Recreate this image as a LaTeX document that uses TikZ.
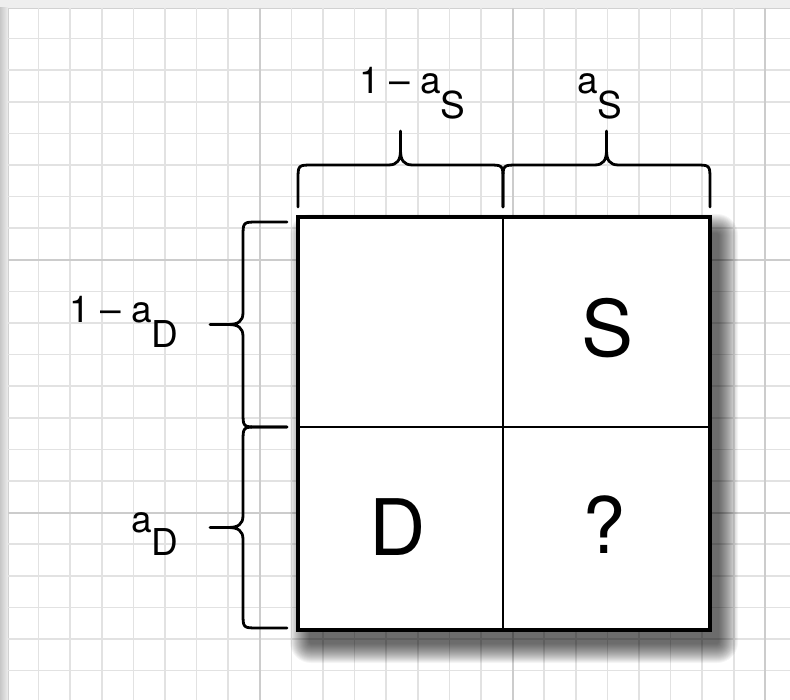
\documentclass[tikz,border=0pt]{standalone}
\usepackage{fontspec}
\setmainfont{TeX Gyre Heros}
\definecolor{minorc}{RGB}{226,226,226}
\definecolor{majorc}{RGB}{204,204,204}
\definecolor{edgec}{RGB}{238,238,238}
\begin{document}
\begin{tikzpicture}[x=1pt,y=-1pt,
  brace/.style={line width=2.8pt, line cap=round, line join=round},
  lab/.style={font=\fontsize{37}{42}\selectfont, inner sep=0pt, anchor=base},
  big/.style={font=\fontsize{78}{82}\selectfont, inner sep=0pt},
  minorline/.style={minorc, line width=1.5pt},
  majorline/.style={majorc, line width=2pt},
  cell/.style={draw, line width=3.2pt, fill=white, inner sep=0pt, minimum width=412pt, minimum height=413pt},
  shadowlayer/.style={fill=black, fill opacity=0.04},
  divider/.style={line width=2.4pt}]
\useasboundingbox (0,0) rectangle (790,700);
% paper
\fill[edgec] (0,0) rectangle (790,700);
\shade[left color=black!22, right color=edgec] (0,8) rectangle (8,700);
\fill[white] (8,8) rectangle (790,700);
\draw[black!18, line width=0.8pt] (8,700) -- (8,8) -- (790,8);
% grid
\foreach \i in {1,...,24} { \draw[minorline] ({7+31.6*\i},8) -- ({7+31.6*\i},700); }
\foreach \i in {1,...,21} { \draw[minorline] (8,{7+31.6*\i}) -- (790,{7+31.6*\i}); }
\foreach \i in {8,16,24} { \draw[majorline] ({7+31.6*\i},8) -- ({7+31.6*\i},700); }
\foreach \i in {8,16} { \draw[majorline] (8,{7+31.6*\i}) -- (790,{7+31.6*\i}); }
% soft shadow
\foreach \r in {0,...,19} {
  \fill[shadowlayer, rounded corners={(21-\r)*1pt}] ({298+10-20+\r+2},{217+15-20+\r+2}) rectangle ({710+10+20-\r-2},{630+15+20-\r-2});
}
% square
\node[cell] (sq) at (504,423.5) {};
\coordinate (tm) at (503,217);
\coordinate (bm) at (503,630);
\coordinate (lm) at (298,427);
\coordinate (rm) at (710,427);
\draw[divider] (tm) -- (bm);
\draw[divider] (lm) -- (rm);
% big letters
\node[big] (S) at (608,328) {S};
\node[big] (D) at (398,527) {D};
\node[big] (Q) at (604,525) {?};
% top braces
\foreach \xa/\xb in {298/503,503/710} {
  \pgfmathsetmacro{\m}{(\xa+\xb)/2}
  \draw[brace] (\xa,207) -- (\xa,180) .. controls (\xa,165) .. (\xa+15,165) -- (\m-12,165)
    .. controls (\m-3,165) and (\m,160) .. (\m,150) -- (\m,131) -- (\m,150)
    .. controls (\m,160) and (\m+3,165) .. (\m+12,165) -- (\xb-15,165)
    .. controls (\xb,165) .. (\xb,180) -- (\xb,207);
}
% left braces
\foreach \ya/\yb in {222/427,427/628} {
  \pgfmathsetmacro{\m}{(\ya+\yb)/2}
  \draw[brace] (287,\ya) -- (258,\ya) .. controls (243,\ya) .. (243,\ya+15) -- (243,\m-12)
    .. controls (243,\m-3) and (238,\m) .. (228,\m) -- (210,\m) -- (228,\m)
    .. controls (238,\m) and (243,\m+3) .. (243,\m+12) -- (243,\yb-15)
    .. controls (243,\yb) .. (258,\yb) -- (287,\yb);
}
% labels
\node[lab] (l1) at (412,94) {1 – a\kern-1pt\raisebox{-25pt}{S}};
\node[lab] (l2) at (600,94) {a\kern-1pt\raisebox{-25pt}{S}};
\node[lab] (l3) at (124,323) {1 – a\kern-1pt\raisebox{-25pt}{D}};
\node[lab] (l4) at (155,532) {a\kern-1pt\raisebox{-23pt}{D}};
\end{tikzpicture}
\end{document}
